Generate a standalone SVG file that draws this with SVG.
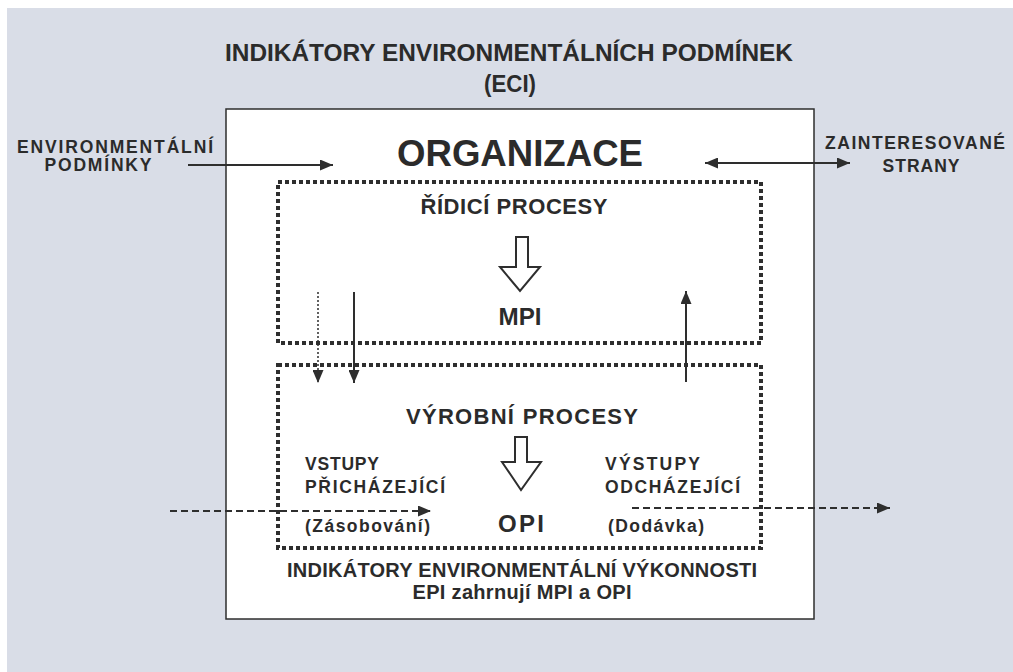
<svg xmlns="http://www.w3.org/2000/svg" width="1013" height="672" viewBox="0 0 1013 672">
<defs>
<style>
text{font-family:"Liberation Sans",Arial,sans-serif;font-weight:bold;fill:#2b2b2b}
.side{font-size:17.5px}
.mid{font-size:22px}
.dots{fill:none;stroke:#2e2e2e;stroke-width:4;stroke-dasharray:4 3}
.line{stroke:#2e2e2e;stroke-width:2;fill:none}
.dash{stroke:#2e2e2e;stroke-width:2;fill:none;stroke-dasharray:7 4}
.hollow{fill:#fff;stroke:#2e2e2e;stroke-width:2;stroke-linejoin:miter}
</style>
<marker id="ah" viewBox="0 0 10 10" refX="10" refY="5" markerWidth="13" markerHeight="11" orient="auto-start-reverse" markerUnits="userSpaceOnUse" preserveAspectRatio="none">
<path d="M0,0 L10,5 L0,10 z" fill="#2e2e2e"/>
</marker>
</defs>
<rect x="0" y="0" width="1013" height="672" fill="#fff"/>
<rect x="7" y="8" width="1006" height="664" fill="#d9dde7"/>

<g id="title">
<text x="509" y="61" font-size="23" text-anchor="middle" textLength="568" lengthAdjust="spacingAndGlyphs">INDIKÁTORY ENVIRONMENTÁLNÍCH PODMÍNEK</text>
<text x="510" y="92" font-size="23" text-anchor="middle" textLength="52" lengthAdjust="spacingAndGlyphs">(ECI)</text>
</g>

<g id="organizace">
<rect x="226" y="109" width="588" height="510" fill="#fff" stroke="#2e2e2e" stroke-width="1.5"/>
<text x="520" y="166" font-size="37" text-anchor="middle" textLength="246" lengthAdjust="spacingAndGlyphs">ORGANIZACE</text>
</g>

<g id="env-podminky">
<text class="side" x="115" y="153" text-anchor="middle" textLength="196" lengthAdjust="spacing">ENVIRONMENTÁLNÍ</text>
<text class="side" x="98" y="171" text-anchor="middle" textLength="107" lengthAdjust="spacing">PODMÍNKY</text>
</g>

<g id="zainteresovane">
<text class="side" x="915" y="149" text-anchor="middle" textLength="180" lengthAdjust="spacing">ZAINTERESOVANÉ</text>
<text class="side" x="921" y="172" text-anchor="middle" textLength="77" lengthAdjust="spacing">STRANY</text>
</g>

<g id="ridici-procesy">
<rect class="dots" x="278" y="182" width="483" height="161"/>
<text class="mid" x="514" y="214" text-anchor="middle" textLength="187" lengthAdjust="spacing">ŘÍDICÍ PROCESY</text>
<path class="hollow" d="M516,237 H528 V267 H540 L520,291 L500,267 H516 Z"/>
<text x="520" y="325" font-size="24" text-anchor="middle" textLength="43" lengthAdjust="spacingAndGlyphs">MPI</text>
</g>

<g id="vyrobni-procesy">
<rect class="dots" x="278" y="365" width="483" height="183"/>
<text class="mid" x="522" y="424" text-anchor="middle" textLength="232" lengthAdjust="spacing">VÝROBNÍ PROCESY</text>
<path class="hollow" d="M515,437 H527 V462 H541 L521,490 L502,462 H515 Z"/>
<text x="521" y="532" font-size="24" text-anchor="middle" textLength="46" lengthAdjust="spacing">OPI</text>
</g>

<g id="vstupy">
<text class="side" x="305" y="470" textLength="74" lengthAdjust="spacing">VSTUPY</text>
<text class="side" x="305" y="493" textLength="140" lengthAdjust="spacing">PŘICHÁZEJÍCÍ</text>
<text class="side" x="305" y="532" textLength="125" lengthAdjust="spacing">(Zásobování)</text>
</g>

<g id="vystupy">
<text class="side" x="605" y="470" textLength="95" lengthAdjust="spacing">VÝSTUPY</text>
<text class="side" x="605" y="493" textLength="135" lengthAdjust="spacing">ODCHÁZEJÍCÍ</text>
<text class="side" x="608" y="532" textLength="96" lengthAdjust="spacing">(Dodávka)</text>
</g>

<g id="epi">
<text x="522" y="577" font-size="20" text-anchor="middle" textLength="470" lengthAdjust="spacing">INDIKÁTORY ENVIRONMENTÁLNÍ VÝKONNOSTI</text>
<text x="522" y="599" font-size="20" text-anchor="middle" textLength="219" lengthAdjust="spacing">EPI zahrnují MPI a OPI</text>
</g>

<g id="connectors">
<line class="line" x1="188" y1="165" x2="333" y2="165" marker-end="url(#ah)"/>
<line class="line" x1="705" y1="163" x2="850" y2="163" marker-start="url(#ah)" marker-end="url(#ah)"/>
<line x1="318" y1="292" x2="318" y2="383" stroke="#2e2e2e" stroke-width="1.5" stroke-dasharray="2 2" marker-end="url(#ah)"/>
<line class="line" x1="354" y1="292" x2="354" y2="383" marker-end="url(#ah)"/>
<line class="line" x1="686" y1="382" x2="686" y2="291" marker-end="url(#ah)"/>
<line class="dash" x1="170" y1="511" x2="431" y2="511" marker-end="url(#ah)"/>
<line class="dash" x1="632" y1="508" x2="890" y2="508" marker-end="url(#ah)"/>
</g>
</svg>
